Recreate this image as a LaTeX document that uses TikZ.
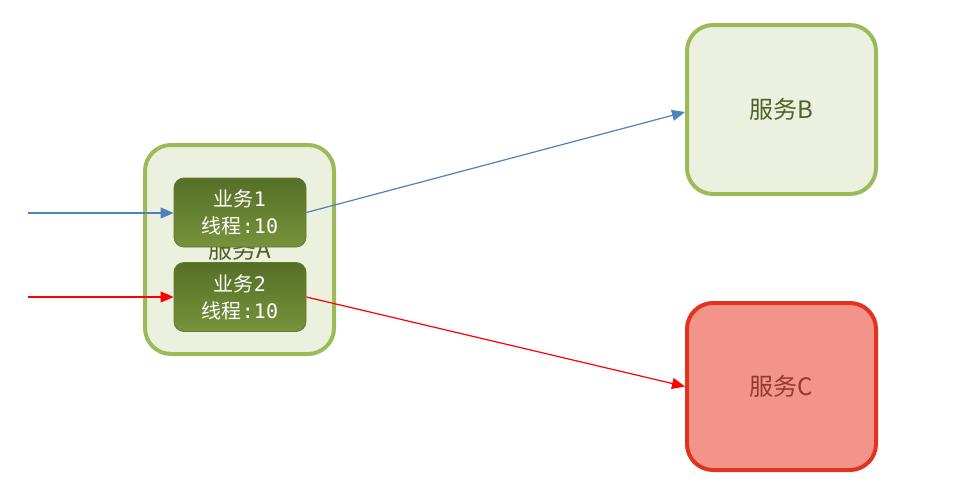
\documentclass[tikz,border=0pt]{standalone}
\usepackage{fontspec}
\setmainfont{Noto Sans CJK SC}
\newfontfamily\cjk{Noto Sans CJK SC}
\newfontfamily\monof{DejaVu Sans Mono}
\usetikzlibrary{arrows.meta}
\definecolor{grnline}{HTML}{9BBB59}
\definecolor{grnfill}{HTML}{EBF1DE}
\definecolor{grntext}{HTML}{4F6228}
\definecolor{oliv}{HTML}{77933C}
\definecolor{olivtop}{HTML}{566F27}
\definecolor{olivdark}{HTML}{5E7A2C}
\definecolor{redline}{HTML}{E0341F}
\definecolor{redfill}{HTML}{F2948A}
\definecolor{redtext}{HTML}{953A2B}
\definecolor{blueline}{HTML}{4F81BD}
\tikzset{
  svc/.style={draw=grnline, line width=4pt, fill=grnfill, rounded corners=26pt, minimum width=189pt, inner sep=0pt, text=grntext, font=\cjk\fontsize{24pt}{28pt}\selectfont},
  biz/.style={draw=olivdark, line width=0.8pt, top color=olivtop, middle color=oliv, bottom color=oliv, rounded corners=10pt, minimum width=132pt, minimum height=69pt, inner sep=0pt, text=white, align=center, font=\fontsize{20pt}{27pt}\selectfont},
  bluearrow/.style={draw=blueline, line width=1.2pt, -{Triangle[length=13pt,width=11pt]}},
  redarrow/.style={draw=red, line width=1.2pt, -{Triangle[length=13pt,width=11pt]}}
}
\begin{document}
\begin{tikzpicture}[x=1pt,y=-1pt]
\useasboundingbox (0,0) rectangle (961,488);
\node[svc, minimum height=209pt] (A) at (239.5,249.5) {服务A};
\node[svc, minimum height=169pt] (B) at (781.5,109.5) {服务B};
\node[svc, minimum height=167pt, draw=redline, fill=redfill, text=redtext] (C) at (781.5,386.5) {服务C};
\node[biz] (b1) at (240,212.5) {业务{\monof 1}\\线程{\monof :10}};
\node[biz] (b2) at (240,297) {业务{\monof 2}\\线程{\monof :10}};
\coordinate (in1) at (28,213);
\coordinate (in2) at (28,297);
\draw[bluearrow] (in1) -- (b1.west |- in1);
\draw[redarrow] (in2) -- (b2.west |- in2);
\draw[bluearrow] (b1.east) -- ([yshift=-2.5pt]B.west);
\draw[redarrow] (b2.east) -- (C.west);
\end{tikzpicture}
\end{document}
